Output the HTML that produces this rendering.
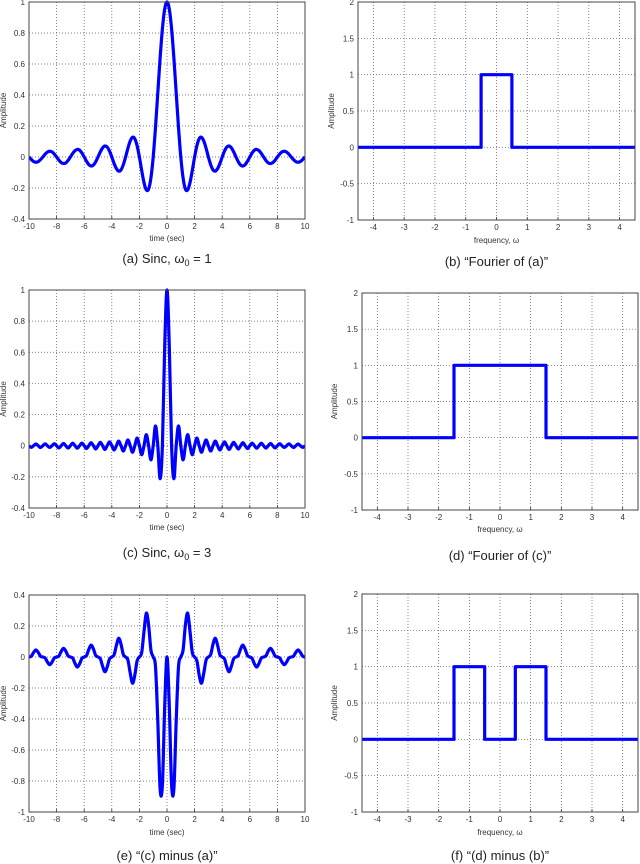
<!DOCTYPE html>
<html><head><meta charset="utf-8">
<style>
html,body{margin:0;padding:0;background:#fff;}
svg{display:block;font-family:"Liberation Sans",sans-serif;}
</style></head>
<body>
<svg id="fig" width="640" height="864" viewBox="0 0 640 864" xmlns="http://www.w3.org/2000/svg"></svg>
<script>
// Sampled values on a 1/6-second grid, t = 0 .. 10 (mirrored for negative t)
const sincW1Half = [1,.955,.827,.637,.414,.191,0,-.136,-.207,-.212,-.165,-.087,0,.073,.118,.127,.103,.056,0,-.050,-.083,-.091,-.075,-.042,0,.038,.064,.071,.059,.033,0,-.031,-.052,-.058,-.049,-.027,0,.026,.044,.049,.041,.023,0,-.022,-.038,-.042,-.036,-.020,0,.019,.033,.037,.032,.018,0,-.017,-.030,-.034,-.029,-.016,0];
const sincW3Half = [1,.637,0,-.212,0,.127,0,-.091,0,.071,0,-.058,0,.049,0,-.042,0,.037,0,-.034,0,.030,0,-.028,0,.025,0,-.024,0,.022,0,-.021,0,.019,0,-.018,0,.017,0,-.016,0,.016,0,-.015,0,.014,0,-.014,0,.013,0,-.012,0,.012,0,-.012,0,.011,0,-.011,0];
const sampleStep = 1/6;
const fourierAX = [-4.5,-0.5,-0.5,0.5,0.5,4.5];
const fourierAY = [0,0,1,1,0,0];
const fourierCX = [-4.5,-1.5,-1.5,1.5,1.5,4.5];
const fourierCY = [0,0,1,1,0,0];
const diffX = [-4.5,-1.5,-1.5,-0.5,-0.5,0.5,0.5,1.5,1.5,4.5];
const diffY = [0,0,1,1,0,0,1,1,0,0];
const timeTicks = [-10,-8,-6,-4,-2,0,2,4,6,8,10];
const freqTicks = [-4,-3,-2,-1,0,1,2,3,4];
const ampTicksA = [-0.4,-0.2,0,0.2,0.4,0.6,0.8,1];
const ampTicksE = [-1,-0.8,-0.6,-0.4,-0.2,0,0.2,0.4];
const ampTicksF = [-1,-0.5,0,0.5,1,1.5,2];

const NS="http://www.w3.org/2000/svg";
const svg=document.getElementById('fig');
function mk(tag,attrs,parent){const e=document.createElementNS(NS,tag);for(const k in attrs)e.setAttribute(k,attrs[k]);(parent||svg).appendChild(e);return e;}

function mirror(half){const xs=[],ys=[];for(let j=half.length-1;j>0;j--){xs.push(-j*sampleStep);ys.push(half[j]);}for(let j=0;j<half.length;j++){xs.push(j*sampleStep);ys.push(half[j]);}return [xs,ys];}
const [tA,yA]=mirror(sincW1Half);
const [tC,yC]=mirror(sincW3Half);
const yE=yC.map((v,i)=>v-yA[i]); // (c) minus (a)

function fmt(v){let s=(Math.round(v*10)/10).toString();if(s.startsWith('0.'))s=s.slice(1),s='0'+s;return s.replace(/^-0\./,'-0.');}

function panel(id,box,xr,yr,xt,yt,xlabel,ylabX,tickY,xlY,cap,capY,xs,ys,smooth){
  const g=mk('g',{});
  
  
  const sx=v=>box.L+(v-xr[0])/(xr[1]-xr[0])*(box.R-box.L);
  const sy=v=>box.B-(v-yr[0])/(yr[1]-yr[0])*(box.B-box.T);
  const bg=mk('rect',{x:box.L,y:box.T,width:box.R-box.L,height:box.B-box.T,fill:'#fff'},g);
  
  
  xt.forEach(v=>{const X=sx(v);
    if(X>box.L+1&&X<box.R-1){const l=mk('line',{x1:X,x2:X,y1:box.T,y2:box.B,stroke:'#555','stroke-width':0.7,'stroke-dasharray':'1 2'},g);}
    mk('line',{x1:X,x2:X,y1:box.B,y2:box.B-3,stroke:'#333','stroke-width':0.8},g);
    const t=mk('text',{x:X,y:tickY,'font-size':8,fill:'#333','text-anchor':'middle'},g);t.textContent=fmt(v);
    });
  yt.forEach(v=>{const Y=sy(v);
    if(Y>box.T+1&&Y<box.B-1){const l=mk('line',{x1:box.L,x2:box.R,y1:Y,y2:Y,stroke:'#555','stroke-width':0.7,'stroke-dasharray':'1 2'},g);}
    const t=mk('text',{x:box.L-4,y:Y+3,'font-size':8,fill:'#333','text-anchor':'end'},g);t.textContent=fmt(v);
    });
  // series
  let d='';
  const P=xs.map((x,i)=>[sx(x),sy(ys[i])]);
  if(!smooth){d=P.map((p,i)=>(i?'L':'M')+p[0].toFixed(2)+' '+p[1].toFixed(2)).join(' ');}
  else{d='M'+P[0][0].toFixed(2)+' '+P[0][1].toFixed(2);
    for(let i=0;i<P.length-1;i++){const p0=P[Math.max(0,i-1)],p1=P[i],p2=P[i+1],p3=P[Math.min(P.length-1,i+2)];
      const c1=[p1[0]+(p2[0]-p0[0])/6,p1[1]+(p2[1]-p0[1])/6],c2=[p2[0]-(p3[0]-p1[0])/6,p2[1]-(p3[1]-p1[1])/6];
      d+=' C'+c1[0].toFixed(2)+' '+c1[1].toFixed(2)+' '+c2[0].toFixed(2)+' '+c2[1].toFixed(2)+' '+p2[0].toFixed(2)+' '+p2[1].toFixed(2);}}
  const cp=mk('clipPath',{id:'clip'+id},g);mk('rect',{x:box.L,y:box.T-2,width:box.R-box.L,height:box.B-box.T+4},cp);
  const line=mk('path',{d:d,fill:'none',stroke:'#0000ff','stroke-width':3.2,'stroke-linejoin':'round','clip-path':'url(#clip'+id+')'},g);
  
  
  const fr=mk('rect',{x:box.L,y:box.T,width:box.R-box.L,height:box.B-box.T,fill:'none',stroke:'#444','stroke-width':1},g);
  
  
  const xl=mk('text',{x:(box.L+box.R)/2,y:xlY,'font-size':8,fill:'#333','text-anchor':'middle'},g);xl.textContent=xlabel;
  
  
  const yl=mk('text',{x:0,y:0,'font-size':8,fill:'#333','text-anchor':'middle',transform:'translate('+ylabX+','+((box.T+box.B)/2)+') rotate(-90)'},g);yl.textContent='Amplitude';
  
  
  const c=mk('text',{x:(box.L+box.R)/2,y:capY,'font-size':13,fill:'#222','text-anchor':'middle'},g);
  
  
  cap(c);
}
function capSinc(letter,w){return c=>{c.appendChild(document.createTextNode('('+letter+') Sinc, ω'));const s=document.createElementNS(NS,'tspan');s.setAttribute('font-size','9');s.setAttribute('dy','3');s.textContent='0';c.appendChild(s);const r=document.createElementNS(NS,'tspan');r.setAttribute('dy','-3');r.textContent=' = '+w;c.appendChild(r);};}
function capText(t){return c=>{c.textContent=t;};}

panel('a',{L:29,R:305,T:2,B:219},[-10,10],[-0.4,1],timeTicks,ampTicksA,'time (sec)',6,229,241,capSinc('a',1),263,tA,yA,true);
panel('b',{L:358,R:635,T:2,B:220},[-4.5,4.5],[-1,2],freqTicks,ampTicksF,'frequency, ω',334,230,243,capText('(b) “Fourier of (a)”'),266,fourierAX,fourierAY,false);
panel('c',{L:29,R:305,T:290,B:508},[-10,10],[-0.4,1],timeTicks,ampTicksA,'time (sec)',6,518,530,capSinc('c',3),557,tC,yC,true);
panel('d',{L:362,R:638,T:293,B:510},[-4.5,4.5],[-1,2],freqTicks,ampTicksF,'frequency, ω',337,520,532,capText('(d) “Fourier of (c)”'),560,fourierCX,fourierCY,false);
panel('e',{L:29,R:305,T:595,B:812},[-10,10],[-1,0.4],timeTicks,ampTicksE,'time (sec)',6,822,835,capText('(e) “(c) minus (a)”'),860,tC,yE,true);
panel('f',{L:362,R:638,T:594,B:812},[-4.5,4.5],[-1,2],freqTicks,ampTicksF,'frequency, ω',337,822,835,capText('(f) “(d) minus (b)”'),860,diffX,diffY,false);
</script>
</body></html>
